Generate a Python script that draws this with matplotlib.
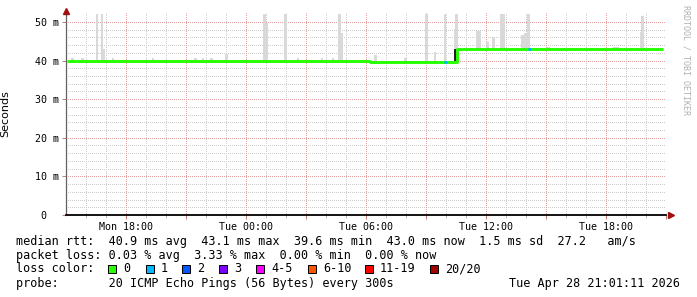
import numpy as np
import matplotlib
matplotlib.use("Agg")
import matplotlib.pyplot as plt
from matplotlib.patches import Rectangle
from matplotlib.transforms import ScaledTranslation

# ---------------- data: hours counted from Mon 00:00, rtt in ms ----------------
t_start, t_end = 15.02, 45.02

# median rtt as steps (start hour of each step, value)
med_t = [15.05, 30.2, 34.55, 44.85]
med_v = [40.0, 39.7, 43.0, 43.0]

# median segments where 1 of 20 pings was lost
loss1_t = [33.9, 38.1]
loss1_end = [34.05, 38.25]

# smoke: highest ping of the interval
smoke_t = [15.35, 15.85, 16.55, 16.8, 16.9, 17.35, 19.35, 21.5, 21.85, 22.3,
           23.05, 24.95, 25.05, 26.0, 26.6, 27.8, 28.35, 28.7, 28.8, 30.5,
           32.0, 33.05, 33.45, 33.95, 34.45, 34.55, 35.6, 35.7, 36.1, 36.4,
           36.8, 36.9, 37.85, 38.0, 38.15, 39.15, 40.3, 42.45, 42.6, 43.8, 43.85]
smoke_top = [40.7, 40.7, 52.0, 52.0, 43.0, 40.7, 40.7, 40.7, 40.7, 40.7,
             41.8, 52.0, 49.7, 52.0, 40.7, 40.7, 40.6, 52.0, 47.2, 41.4,
             40.7, 52.0, 42.3, 52.0, 48.1, 52.0, 47.7, 47.7, 44.9, 46.0,
             52.0, 52.0, 46.6, 47.0, 52.0, 43.4, 43.3, 43.5, 43.5, 47.5, 51.4]
smoke_bot = [40.0] * 6 + [40.0] * 13 + [39.7] * 6 + [43.0] * 16

# dense smoke where the level jumped
dark_t = [34.5]
dark_lo = [40.0]
dark_hi = [43.1]

y_ticks = [0, 10, 20, 30, 40, 50]
y_labels = ["0", "10 m", "20 m", "30 m", "40 m", "50 m"]
x_ticks = [18, 21, 24, 27, 30, 33, 36, 39, 42, 45]
x_labels = ["Mon 18:00", "", "Tue 00:00", "", "Tue 06:00", "",
            "Tue 12:00", "", "Tue 18:00", ""]

loss_names = ["0", "1", "2", "3", "4-5", "6-10", "11-19", "20/20"]
loss_colors = ["#26ff00", "#00b8ff", "#0059ff", "#7e00ff", "#ff00ff",
               "#ff5500", "#ff0000", "#a10000"]

rtt_avg, rtt_max, rtt_min, rtt_now, rtt_sd, rtt_ams = 40.9, 43.1, 39.6, 43.0, 1.5, 27.2
loss_avg, loss_max, loss_min, loss_now = 0.03, 3.33, 0.00, 0.00
stamp = "Tue Apr 28 21:01:11 2026"

# ---------------- figure ----------------
W, H = 697, 297
fig = plt.figure(figsize=(W / 100, H / 100), dpi=100)
ax = fig.add_axes([66 / W, (H - 215) / H, 600 / W, 202 / H])
mono = "DejaVu Sans Mono"

# grid: 1px dots, dash offset by half a pixel so dots sit on whole pixels
gk = dict(lw=0.72, ls=(0.5, (1, 1)))
for x in np.arange(16, 46, 1):
    ax.axvline(x, color="#cccccc", zorder=0, **gk)
for y in np.arange(2, 52, 2):
    ax.axhline(y, color="#cccccc", zorder=0, **gk)
for x in x_ticks:
    ax.axvline(x, color="#e3a0a0", zorder=0.5, **gk)
for y in y_ticks[1:]:
    ax.axhline(y, color="#e3a0a0", zorder=0.5, **gk)

# smoke
smoke_h = [a - b for a, b in zip(smoke_top, smoke_bot)]
ax.bar(smoke_t, smoke_h, bottom=smoke_bot, width=0.11, color="#d9d9d9", lw=0, zorder=1)
ax.bar(dark_t, [h - l for h, l in zip(dark_hi, dark_lo)], bottom=dark_lo,
       width=0.15, color="#222222", lw=0, zorder=2)

# median line
ax.plot(med_t, med_v, drawstyle="steps-post", color=loss_colors[0], lw=2.1,
        solid_capstyle="butt", zorder=3)
med_t_arr = np.array(med_t)
for a, b in zip(loss1_t, loss1_end):
    v = med_v[np.searchsorted(med_t_arr, a, side="right") - 1]
    ax.plot([a, b], [v, v], color=loss_colors[1], lw=2.1, solid_capstyle="butt", zorder=4)

ax.set_xlim(t_start, t_end)
ax.set_ylim(0, 52.3)
ax.set_xticks(x_ticks)
ax.set_xticklabels(x_labels)
ax.set_xticks(np.arange(16, 46, 1), minor=True)
ax.set_yticks(y_ticks)
ax.set_yticklabels(y_labels)
ax.tick_params(axis="both", which="major", length=3, width=0.72, color="#c08080",
               labelsize=7.2, pad=2)
ax.tick_params(axis="x", which="minor", length=2, width=0.72, color="#bbbbbb")
for lab in ax.get_xticklabels() + ax.get_yticklabels():
    lab.set_family(mono)
lab0 = ax.get_yticklabels()[0]
lab0.set_transform(lab0.get_transform() + ScaledTranslation(-0.125, 0, fig.dpi_scale_trans))

for s in ["top", "right"]:
    ax.spines[s].set_visible(False)
ax.spines["left"].set_color("#606060")
ax.spines["left"].set_linewidth(0.9)
ax.spines["bottom"].set_color("black")
ax.spines["bottom"].set_linewidth(1.3)

# axis arrows
ax.plot([0], [1 + 2.5 / 202], marker="^", ms=5, color="#a01010", mec="#a01010",
        transform=ax.transAxes, clip_on=False, zorder=5)
ax.plot([1 + 4.5 / 600], [0], marker=">", ms=5, color="#a01010", mec="#a01010",
        transform=ax.transAxes, clip_on=False, zorder=5)

ax.set_ylabel("Seconds", fontsize=8, labelpad=18)
ax.yaxis.set_label_coords(-56 / 600, 0.5)

fig.text(686 / W, 1 - 5 / H, "RRDTOOL / TOBI OETIKER", rotation=270, ha="center", va="top",
         family=mono, fontsize=6, color="#b0b0b0")

# ---------------- legend rows ----------------
fs = 8.5
def row(y, s, x=16, ha="left"):
    fig.text(x / W, 1 - y / H, s, family=mono, fontsize=fs, ha=ha, va="center")

row(241, f"median rtt:  {rtt_avg:.1f} ms avg  {rtt_max:.1f} ms max  {rtt_min:.1f} ms min  "
         f"{rtt_now:.1f} ms now  {rtt_sd:.1f} ms sd  {rtt_ams:.1f}   am/s")
row(255, f"packet loss: {loss_avg:.2f} % avg  {loss_max:.2f} % max  {loss_min:.2f} % min  "
         f"{loss_now:.2f} % now")
row(269, "loss color:")
sq_x = [108, 146, 182, 219, 256, 308, 365, 430]
for x, name, c in zip(sq_x, loss_names, loss_colors):
    fig.add_artist(Rectangle((x / W, 1 - 273 / H), 8 / W, 8 / H, transform=fig.transFigure,
                             fc=c, ec="black", lw=0.72))
    row(269, name, x=x + 15)
row(283, "probe:       20 ICMP Echo Pings (56 Bytes) every 300s")
row(283, stamp, x=680, ha="right")

fig.savefig("out.png", dpi=100, facecolor="white")
